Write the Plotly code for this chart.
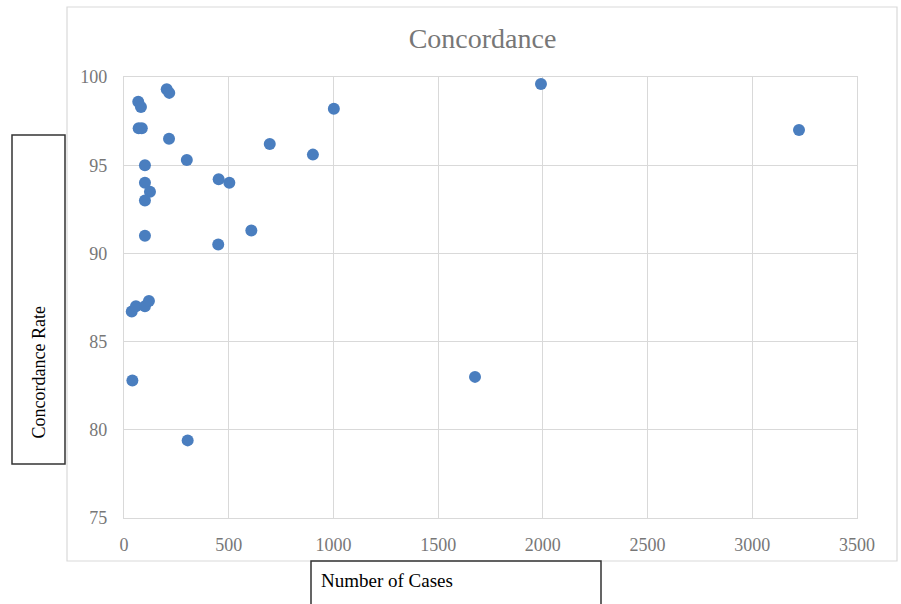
import plotly.graph_objects as go

# Data
cases = [70, 85, 68, 81, 204, 216, 215, 300, 100, 100, 124, 100, 100,
         452, 503, 608, 450, 696, 902, 1002, 1991, 3223, 1676,
         37, 57, 100, 119, 40, 304]
concordance = [97.1, 97.1, 98.6, 98.3, 99.3, 99.1, 96.5, 95.3, 95.0, 94.0, 93.5, 93.0, 91.0,
               94.2, 94.0, 91.3, 90.5, 96.2, 95.6, 98.2, 99.6, 97.0, 83.0,
               86.7, 87.0, 87.0, 87.3, 82.8, 79.4]
x_ticks = [0, 500, 1000, 1500, 2000, 2500, 3000, 3500]
y_ticks = [75, 80, 85, 90, 95, 100]

W, H = 901, 604
L, R, T, B = 124, 857, 77, 518  # plot area in pixels


def px(xp):
    return (xp - L) / (R - L)


def py(yp):
    return (B - yp) / (B - T)


grid = "#d9d9d9"
tickfont = dict(family="Liberation Serif", size=18, color="#777777")

fig = go.Figure(
    go.Scatter(
        x=cases, y=concordance, mode="markers",
        marker=dict(color="#4a7ebf", size=12),
        showlegend=False,
    )
)

fig.update_layout(
    width=W, height=H,
    margin=dict(l=L, r=W - R, t=T, b=H - B),
    paper_bgcolor="white", plot_bgcolor="white",
    title=dict(text="Concordance", x=px(482.5), xref="paper", xanchor="center",
               y=1 - 38 / H, yanchor="middle",
               font=dict(family="Liberation Serif", size=28, color="#777777")),
    shapes=[
        dict(type="rect", xref="paper", yref="paper",
             x0=px(67), x1=px(897), y0=py(561), y1=py(7),
             line=dict(color=grid, width=1.2), layer="below"),
        dict(type="rect", xref="paper", yref="paper",
             x0=px(12), x1=px(65), y0=py(464), y1=py(135),
             line=dict(color="#333333", width=1.5)),
        dict(type="rect", xref="paper", yref="paper",
             x0=px(311), x1=px(601), y0=py(615), y1=py(561),
             line=dict(color="#333333", width=1.5)),
    ],
    annotations=[
        dict(text="Concordance Rate", xref="paper", yref="paper",
             x=px(38.5), y=py(373), xanchor="center", yanchor="middle",
             textangle=-90, showarrow=False,
             font=dict(family="Liberation Serif", size=18, color="black")),
        dict(text="Number of Cases", xref="paper", yref="paper",
             x=px(319), y=py(580), xanchor="left", yanchor="middle",
             showarrow=False,
             font=dict(family="Liberation Serif", size=19, color="black")),
    ],
)

fig.update_xaxes(range=[0, 3500], tickvals=x_ticks, showgrid=True, gridcolor=grid,
                 gridwidth=1.2, zeroline=False, showline=True, linecolor=grid,
                 linewidth=1.2, mirror=True, ticks="", tickfont=tickfont,
                 ticklabelstandoff=10)
fig.update_yaxes(range=[75, 100], tickvals=y_ticks, showgrid=True, gridcolor=grid,
                 gridwidth=1.2, zeroline=False, showline=True, linecolor=grid,
                 linewidth=1.2, mirror=True, ticks="", tickfont=tickfont,
                 ticklabelstandoff=12)

fig.write_html(
    "out.html",
    config={"displayModeBar": False},
    post_script="document.body.style.margin='0';document.body.style.overflow='hidden';",
)
